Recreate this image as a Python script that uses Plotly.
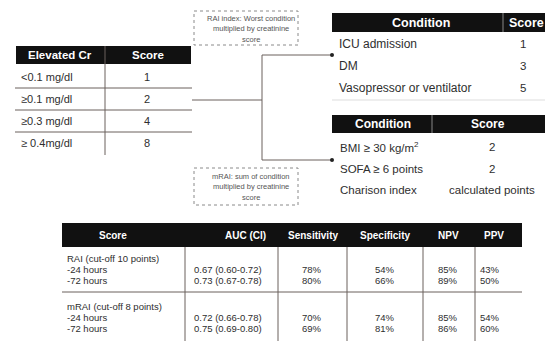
import plotly.graph_objects as go

# ---------------- data ----------------
cr_header = ["Elevated Cr", "Score"]
cr_levels = ["<0.1 mg/dl", "≥0.1 mg/dl", "≥0.3 mg/dl", "≥ 0.4mg/dl"]
cr_scores = ["1", "2", "4", "8"]

rai_header = ["Condition", "Score"]
rai_conditions = ["ICU admission", "DM", "Vasopressor or ventilator"]
rai_scores = ["1", "3", "5"]

mrai_header = ["Condition", "Score"]
mrai_conditions = ["BMI ≥ 30 kg/m<sup>2</sup>", "SOFA ≥ 6 points", "Charison index"]
mrai_scores = ["2", "2", "calculated points"]

rai_note = ["RAI index: Worst condition", "multiplied by creatinine", "score"]
mrai_note = ["mRAI: sum of condition", "multiplied by creatinine", "score"]

perf_headers = ["Score", "AUC (CI)", "Sensitivity", "Specificity", "NPV", "PPV"]
perf_groups = ["RAI (cut-off 10 points)", "mRAI (cut-off 8 points)"]
perf_rows = ["-24 hours", "-72 hours"]
auc_ci = [["0.67 (0.60-0.72)", "0.73 (0.67-0.78)"],
          ["0.72 (0.66-0.78)", "0.75 (0.69-0.80)"]]
sensitivity = [[78, 80], [70, 69]]
specificity = [[54, 66], [74, 81]]
npv = [[85, 89], [85, 86]]
ppv = [[43, 50], [54, 60]]

# ---------------- styles ----------------
FONT = "Liberation Sans, Arial, sans-serif"
TXT = "#2e2e2e"
LINE = "#6a605c"
HEAD = "#111111"
W, H = 545, 341

shapes = []
ann = []


def rect(x0, y0, x1, y1, fill=None, line=None, dash=None, width=1):
    shapes.append(dict(type="rect", xref="x", yref="y", x0=x0, y0=y0, x1=x1, y1=y1,
                       fillcolor=fill or "rgba(0,0,0,0)",
                       line=dict(color=line or "rgba(0,0,0,0)", width=width if line else 0,
                                 dash=dash or "solid"), layer="below"))


def hline(x0, x1, y, color=LINE, width=1):
    shapes.append(dict(type="line", xref="x", yref="y", x0=x0, x1=x1, y0=y, y1=y,
                       line=dict(color=color, width=width)))


def vline(x, y0, y1, color=LINE, width=1):
    shapes.append(dict(type="line", xref="x", yref="y", x0=x, x1=x, y0=y0, y1=y1,
                       line=dict(color=color, width=width)))


def text(x, y, s, size, color=TXT, anchor="left", bold=False):
    ann.append(dict(x=x, y=y, xref="x", yref="y", text=("<b>%s</b>" % s) if bold else s,
                    showarrow=False, xanchor=anchor, yanchor="middle",
                    font=dict(family=FONT, size=size, color=color)))


# ---------- Table 1: Elevated Cr ----------
rect(16, 46, 191, 64, fill=HEAD)
text(60, 55, cr_header[0], 11.5, "white", "center", True)
text(148, 55, cr_header[1], 11.5, "white", "center", True)
vline(105, 46, 155)
cr_y = [77, 99, 121, 143]
for i, (lv, sc) in enumerate(zip(cr_levels, cr_scores)):
    text(19, cr_y[i], lv, 11)
    text(147, cr_y[i], sc, 11, anchor="center")
for y in [88, 110, 132]:
    hline(15, 192, y)

# ---------- connectors ----------
hline(192, 262, 100)
vline(262, 55, 160)
hline(262, 332, 55)
hline(262, 332, 160)
for y in [55, 160]:
    shapes.append(dict(type="circle", xref="x", yref="y", x0=330, x1=334, y0=y - 2, y1=y + 2,
                       fillcolor="#222", line=dict(width=0)))

# ---------- dashed note boxes ----------
rect(194, 11, 298, 45, line="#8a8a8a", dash="dot")
for i, s in enumerate(rai_note):
    text(251, 18 + i * 10.5, s, 7.5, "#555", "center")
rect(194, 168, 298, 205, line="#8a8a8a", dash="dot")
for i, s in enumerate(mrai_note):
    text(251, 176 + i * 10.5, s, 7.5, "#555", "center")

# ---------- Table 2: RAI conditions ----------
rect(332, 13, 548, 32, fill=HEAD)
vline(503, 13, 32, color="#888")
text(421, 22.5, rai_header[0], 12.5, "white", "center", True)
text(526, 22.5, rai_header[1], 12.5, "white", "center", True)
t2_y = [43.5, 65.5, 88]
for i, (c, s) in enumerate(zip(rai_conditions, rai_scores)):
    text(337, t2_y[i], c, 12)
    text(523, t2_y[i], s, 11.5, anchor="center")
hline(332, 545, 100, color="#dddddd")

# ---------- Table 3: mRAI conditions ----------
rect(332, 115, 548, 133, fill=HEAD)
vline(432, 115, 133, color="#888")
text(383, 124, mrai_header[0], 12, "white", "center", True)
text(488, 124, mrai_header[1], 12, "white", "center", True)
t3_y = [147, 168.5, 190]
for i, (c, s) in enumerate(zip(mrai_conditions, mrai_scores)):
    text(338, t3_y[i], c, 11.5)
    text(492, t3_y[i], s, 11.5, anchor="center")

# ---------- Performance table ----------
rect(62, 223, 522, 247, fill=HEAD)
head_x = [113, 245, 313, 385, 448, 494]
for hx, h in zip(head_x, perf_headers):
    text(hx, 235, h, 10, "white", "center", True)
for vx in [185, 278, 347, 423, 475]:
    vline(vx, 247, 341)
hline(62, 522, 292)

val_x = [312, 385, 448, 490]
group_y = [258, 306]
for g, gname in enumerate(perf_groups):
    gy = group_y[g]
    text(65, gy, gname, 9.5)
    for r, rname in enumerate(perf_rows):
        ry = gy + 11.5 + r * 10.5
        text(65, ry, rname, 9.5)
        text(192, ry, auc_ci[g][r], 9.5)
        for vx, arr in zip(val_x, [sensitivity, specificity, npv, ppv]):
            text(vx, ry, "%d%%" % arr[g][r], 9.5, anchor="center")

fig = go.Figure()
fig.update_layout(
    width=W, height=H,
    margin=dict(l=0, r=0, t=0, b=0),
    paper_bgcolor="white", plot_bgcolor="white",
    xaxis=dict(range=[0, W], visible=False, fixedrange=True),
    yaxis=dict(range=[H, 0], visible=False, fixedrange=True),
    shapes=shapes, annotations=ann, showlegend=False,
)
fig.write_html("out.html", config=dict(displayModeBar=False),
               post_script="document.body.style.margin='0';document.body.style.overflow='hidden';")
